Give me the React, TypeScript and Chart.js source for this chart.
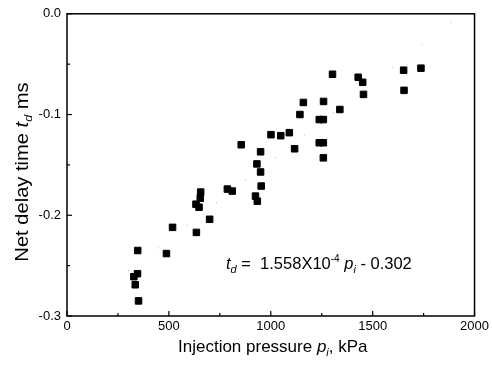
import React, { useEffect, useRef } from "react";
import { Chart, registerables } from "chart.js";

Chart.register(...registerables);

// Injection pressure (kPa) and net delay time (ms)
const pressure = [
  351, 335, 328, 346, 347, 488, 518, 635, 700, 633, 648, 654, 656, 787, 811,
  925, 934, 953, 950, 932, 950, 855, 1001, 1049, 1091, 1117, 1143, 1160, 1259,
  1339, 1303, 1238, 1258, 1238, 1258, 1258, 1429, 1451, 1455, 1652, 1654, 1737,
];
const delay = [
  -0.285, -0.269, -0.261, -0.258, -0.235, -0.238, -0.212, -0.217, -0.204,
  -0.189, -0.192, -0.183, -0.177, -0.174, -0.176, -0.181, -0.186, -0.171,
  -0.157, -0.149, -0.137, -0.13, -0.12, -0.121, -0.118, -0.134, -0.1, -0.088,
  -0.087, -0.095, -0.06, -0.105, -0.105, -0.128, -0.128, -0.143, -0.063,
  -0.068, -0.08, -0.056, -0.076, -0.054,
];

// Faint fitted line end points
const fitX = [300, 1900];
const fitY = [-0.255, -0.006];

// Axis ranges / tick steps
const xRange = [0, 2000];
const xStep = 500;
const yRange = [-0.3, 0.0];
const yStep = 0.1;

const FONT = '"Liberation Sans", Arial, Helvetica, sans-serif';

type Seg = { t: string; italic?: boolean; size: number; dy?: number };

function drawRich(
  ctx: CanvasRenderingContext2D,
  segs: Seg[],
  x: number,
  y: number,
  align: "left" | "center"
) {
  const widths = segs.map((s) => {
    ctx.font = `${s.italic ? "italic " : ""}${s.size}px ${FONT}`;
    return ctx.measureText(s.t).width;
  });
  const total = widths.reduce((a, b) => a + b, 0);
  let cx = align === "center" ? x - total / 2 : x;
  ctx.textAlign = "left";
  ctx.textBaseline = "alphabetic";
  segs.forEach((s, i) => {
    ctx.font = `${s.italic ? "italic " : ""}${s.size}px ${FONT}`;
    ctx.fillText(s.t, cx, y + (s.dy || 0));
    cx += widths[i];
  });
}

const decorPlugin = {
  id: "decor",
  afterDraw(chart: any) {
    const { ctx, chartArea: a, scales } = chart;
    const xs = scales.x;
    const ys = scales.y;
    ctx.save();
    ctx.strokeStyle = "#000";
    ctx.fillStyle = "#000";
    ctx.lineWidth = 1.5;
    ctx.strokeRect(a.left, a.top, a.right - a.left, a.bottom - a.top);

    ctx.lineWidth = 1.2;
    const line = (x1: number, y1: number, x2: number, y2: number) => {
      ctx.beginPath();
      ctx.moveTo(x1, y1);
      ctx.lineTo(x2, y2);
      ctx.stroke();
    };
    // x ticks (major + minor midpoints), inward
    const xt = xs.ticks.map((t: any) => t.value);
    xt.forEach((v: number, i: number) => {
      const px = xs.getPixelForValue(v);
      line(px, a.bottom, px, a.bottom - 5);
      if (i < xt.length - 1) {
        const m = xs.getPixelForValue((v + xt[i + 1]) / 2);
        line(m, a.bottom, m, a.bottom - 3);
      }
    });
    const yt = ys.ticks.map((t: any) => t.value);
    yt.forEach((v: number, i: number) => {
      const py = ys.getPixelForValue(v);
      line(a.left, py, a.left + 5, py);
      if (i < yt.length - 1) {
        const m = ys.getPixelForValue((v + yt[i + 1]) / 2);
        line(a.left, m, a.left + 3, m);
      }
    });

    // x axis title
    drawRich(
      ctx,
      [
        { t: "Injection pressure ", size: 17 },
        { t: "p", italic: true, size: 17 },
        { t: "i", italic: true, size: 11, dy: 4 },
        { t: ", kPa", size: 17 },
      ],
      (a.left + a.right) / 2 + 2,
      352,
      "center"
    );

    // y axis title
    ctx.save();
    ctx.translate(28, 172);
    ctx.rotate(-Math.PI / 2);
    ctx.scale(1.15, 1);
    drawRich(
      ctx,
      [
        { t: "Net delay time ", size: 17.5 },
        { t: "t", italic: true, size: 17.5 },
        { t: "d", italic: true, size: 11, dy: 4 },
        { t: " ms", size: 17.5 },
      ],
      0,
      0,
      "center"
    );
    ctx.restore();

    // equation
    drawRich(
      ctx,
      [
        { t: "t", italic: true, size: 16.5 },
        { t: "d", italic: true, size: 11, dy: 4 },
        { t: " = ", size: 16.5 },
        { t: " 1.558X10", size: 16.5 },
        { t: "-4", size: 10, dy: -7 },
        { t: " ", size: 16.5 },
        { t: "p", italic: true, size: 16.5 },
        { t: "i", italic: true, size: 11, dy: 4 },
        { t: " - 0.302", size: 16.5 },
      ],
      226,
      269,
      "left"
    );
    ctx.restore();
  },
};

export default function App() {
  const ref = useRef<HTMLCanvasElement | null>(null);
  useEffect(() => {
    document.body.style.margin = "0";
    if (!ref.current) return;
    const points = pressure.map((p, i) => ({ x: p, y: delay[i] }));
    const fit = fitX.map((p, i) => ({ x: p, y: fitY[i] }));
    const chart = new Chart(ref.current, {
      type: "scatter",
      data: {
        datasets: [
          {
            type: "line",
            data: fit,
            borderColor: "rgba(0,0,0,0.35)",
            borderWidth: 1,
            borderDash: [1, 36],
            pointRadius: 0,
            fill: false,
          } as any,
          {
            data: points,
            pointStyle: "rect",
            pointRadius: 4.6,
            pointBackgroundColor: "#000",
            pointBorderColor: "#000",
            pointBorderWidth: 1,
          },
        ],
      },
      options: {
        animation: false,
        responsive: false,
        layout: { padding: { top: 13, right: 16, left: 0, bottom: 0 } },
        plugins: {
          legend: { display: false },
          tooltip: { enabled: false },
        },
        scales: {
          x: {
            type: "linear",
            min: xRange[0],
            max: xRange[1],
            ticks: {
              stepSize: xStep,
              padding: 3,
              color: "#000",
              font: { family: FONT, size: 13 },
              maxRotation: 0,
              callback: (v: any) => String(v),
            },
            grid: { display: false, drawTicks: false, tickLength: 0 },
            border: { display: false },
            afterFit: (s: any) => {
              s.height = 51;
            },
          },
          y: {
            type: "linear",
            min: yRange[0],
            max: yRange[1],
            ticks: {
              stepSize: yStep,
              padding: 6,
              color: "#000",
              font: { family: FONT, size: 13 },
              callback: (v: any) => Number(v).toFixed(1),
            },
            grid: { display: false, drawTicks: false, tickLength: 0 },
            border: { display: false },
            afterFit: (s: any) => {
              s.width = 67;
            },
          },
        },
      },
      plugins: [decorPlugin],
    });
    return () => chart.destroy();
  }, []);
  return (
    <div style={{ width: 492, height: 367 }}>
      <canvas ref={ref} width={492} height={367} />
    </div>
  );
}
